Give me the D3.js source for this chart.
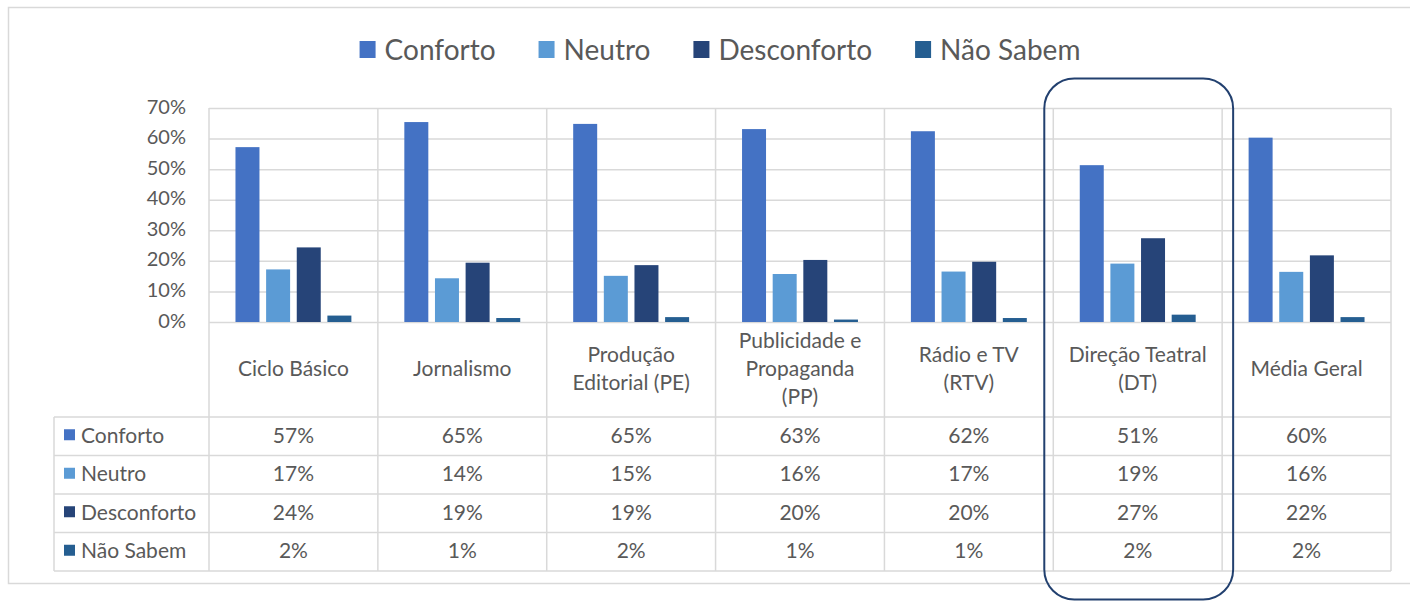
<!DOCTYPE html>
<html>
<head>
<meta charset="utf-8">
<script src="https://cdn.jsdelivr.net/npm/d3@7/dist/d3.min.js"></script>
<style>
  html, body { margin: 0; padding: 0; background: #fff; }
  svg { display: block; }
  text { font-family: Lato, "Open Sans", sans-serif; fill: #595959; }
</style>
</head>
<body>
<svg id="chart" width="1410" height="601"></svg>
<script>
// ---- data ----
const categories = ["Ciclo Básico", "Jornalismo", "Produção\nEditorial (PE)", "Publicidade e\nPropaganda\n(PP)", "Rádio e TV\n(RTV)", "Direção Teatral\n(DT)", "Média Geral"];
const seriesNames = ["Conforto", "Neutro", "Desconforto", "Não Sabem"];
const conforto    = [57.2, 65.4, 64.8, 63.1, 62.4, 51.3, 60.3];
const neutro      = [17.2, 14.3, 15.1, 15.7, 16.5, 19.1, 16.4];
const desconforto = [24.4, 19.4, 18.6, 20.3, 19.7, 27.4, 21.8];
const naoSabem    = [2.1, 1.3, 1.6, 0.8, 1.3, 2.4, 1.6];
const yTicks = [0, 10, 20, 30, 40, 50, 60, 70];
const highlighted = "Direção Teatral\n(DT)";

const seriesValues = [conforto, neutro, desconforto, naoSabem];
const colors = ["#4472C4", "#5B9BD5", "#264478", "#255E91"];
const gridColor = "#D9D9D9";

const svg = d3.select("#chart");

// outer chart border
svg.append("rect").attr("x", 8.5).attr("y", 7.5).attr("width", 1430).attr("height", 576)
  .attr("fill", "none").attr("stroke", gridColor).attr("stroke-width", 1.5);

// scales
const plotLeft = 209, plotRight = 1391, plotTop = 108, plotBottom = 322;
const x0 = d3.scaleBand().domain(categories).range([plotLeft, plotRight]).padding(0);
const x1 = d3.scaleBand().domain(seriesNames).range([0, x0.bandwidth()]).paddingInner(0.217).paddingOuter(0.864);
const y = d3.scaleLinear().domain([0, 70]).range([plotBottom, plotTop]);
const color = d3.scaleOrdinal().domain(seriesNames).range(colors);

const labelTop = plotBottom, tableTop = 417, tableBottom = 571, tableLeft = 54;
const rowScale = d3.scaleBand().domain(seriesNames).range([tableTop, tableBottom]);

// horizontal gridlines + y tick labels
const yAxis = d3.axisLeft(y).tickValues(yTicks).tickFormat(d => d + "%")
  .tickSize(-(plotRight - plotLeft)).tickPadding(23);
const gy = svg.append("g").attr("transform", `translate(${plotLeft},0)`).call(yAxis);
gy.select(".domain").remove();
gy.selectAll(".tick line").attr("stroke", gridColor).attr("stroke-width", 1.5);
gy.selectAll(".tick text").style("font-size", "20px").attr("fill", "#595959")
  .style("font-family", "Lato, sans-serif").attr("dy", "0.25em");

// vertical category separators (through plot + table)
const bounds = categories.map(c => x0(c)).concat([plotRight]);
svg.append("g").selectAll("line").data(bounds).join("line")
  .attr("x1", d => d).attr("x2", d => d)
  .attr("y1", plotTop).attr("y2", tableBottom)
  .attr("stroke", gridColor).attr("stroke-width", 1.5);

// table horizontal lines
const rowLines = seriesNames.map(s => rowScale(s)).concat([tableBottom]);
svg.append("g").selectAll("line").data(rowLines).join("line")
  .attr("x1", tableLeft).attr("x2", plotRight)
  .attr("y1", d => d).attr("y2", d => d)
  .attr("stroke", gridColor).attr("stroke-width", 1.5);
svg.append("line").attr("x1", tableLeft).attr("x2", tableLeft)
  .attr("y1", tableTop).attr("y2", tableBottom)
  .attr("stroke", gridColor).attr("stroke-width", 1.5);

// bars
const groups = svg.append("g").selectAll("g").data(categories).join("g")
  .attr("transform", c => `translate(${x0(c)},0)`);
groups.selectAll("rect").data((c, i) => seriesNames.map((s, k) => ({ s, v: seriesValues[k][i] })))
  .join("rect")
  .attr("x", d => x1(d.s)).attr("width", x1.bandwidth())
  .attr("y", d => y(d.v)).attr("height", d => y(0) - y(d.v))
  .attr("fill", d => color(d.s));

// category labels
const lineH = 28;
const labelCenter = (labelTop + tableTop) / 2;
svg.append("g").selectAll("text").data(categories).join("text")
  .attr("text-anchor", "middle").style("font-size", "21px")
  .attr("dominant-baseline", "central")
  .each(function (c) {
    const lines = c.split("\n");
    const t = d3.select(this);
    lines.forEach((ln, j) => {
      t.append("tspan").attr("x", x0(c) + x0.bandwidth() / 2)
        .attr("y", labelCenter - 3 + (j - (lines.length - 1) / 2) * lineH)
        .text(ln);
    });
  });

// table legend column
const rows = svg.append("g").selectAll("g").data(seriesNames).join("g")
  .attr("transform", s => `translate(0,${rowScale(s) + rowScale.bandwidth() / 2})`);
rows.append("rect").attr("x", 64).attr("y", -7).attr("width", 11).attr("height", 11)
  .attr("fill", s => color(s));
rows.append("text").attr("x", 81).attr("y", -2).attr("dominant-baseline", "central")
  .style("font-size", "21px").text(s => s);

// table values
rows.each(function (s, k) {
  d3.select(this).selectAll("text.val").data(categories).join("text")
    .attr("class", "val")
    .attr("x", c => x0(c) + x0.bandwidth() / 2).attr("y", -2)
    .attr("text-anchor", "middle").attr("dominant-baseline", "central")
    .style("font-size", "21px")
    .text((c, i) => Math.round(seriesValues[k][i]) + "%");
});

// top legend
const legend = svg.append("g");
let lx = 0;
const gap = 43;
seriesNames.forEach((s, k) => {
  const g = legend.append("g").attr("transform", `translate(${lx},0)`);
  g.append("rect").attr("x", 0).attr("y", -8).attr("width", 16).attr("height", 17).attr("fill", color(s));
  const t = g.append("text").attr("x", 25).attr("y", 0).attr("dominant-baseline", "central")
    .style("font-size", "28px").text(s);
  lx += 25 + t.node().getComputedTextLength() + gap;
});
const legendW = lx - gap;
legend.attr("transform", `translate(${720 - legendW / 2},49)`);

// highlight rounded box around DT column
const hx = x0(highlighted);
svg.append("rect")
  .attr("x", hx - 9).attr("y", 78.5)
  .attr("width", x0.bandwidth() + 20).attr("height", 521)
  .attr("rx", 30).attr("ry", 30)
  .attr("fill", "none").attr("stroke", "#22406F").attr("stroke-width", 2);
</script>
</body>
</html>
